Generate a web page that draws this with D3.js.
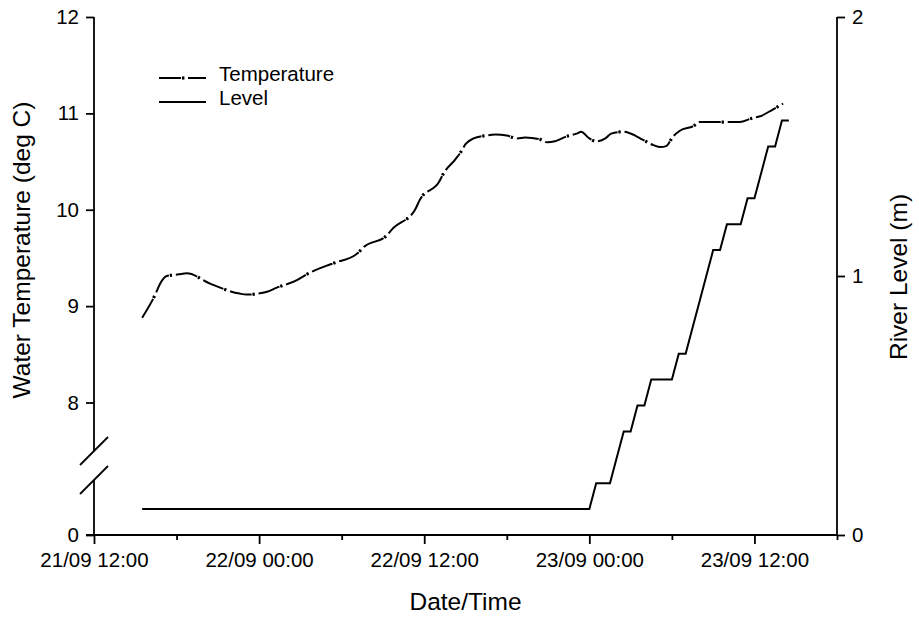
<!DOCTYPE html>
<html>
<head>
<meta charset="utf-8">
<script src="https://cdn.jsdelivr.net/npm/d3@7"></script>
<style>
  html, body { margin: 0; padding: 0; background: #fff; }
  svg { display: block; font-family: "Liberation Sans", Arial, sans-serif; }
</style>
</head>
<body>
<svg id="chart" width="919" height="617"></svg>
<script>
// Water temperature (deg C), logger readings
const tempTimes = [
  "21/09 15:30","21/09 16:25","21/09 16:50","21/09 17:15","21/09 18:10","21/09 18:45",
  "21/09 20:20","21/09 20:40","21/09 22:35","21/09 23:05","22/09 00:35","22/09 01:15",
  "22/09 02:45","22/09 03:20","22/09 04:55","22/09 05:30","22/09 07:05","22/09 07:40",
  "22/09 09:15","22/09 09:45","22/09 11:20","22/09 11:40","22/09 13:05","22/09 13:25",
  "22/09 14:15","22/09 14:40","22/09 15:00","22/09 15:35","22/09 16:30","22/09 17:10",
  "22/09 18:00","22/09 18:45","22/09 19:20","22/09 20:25","22/09 20:55","22/09 21:30",
  "22/09 22:20","22/09 23:05","22/09 23:25","22/09 23:55","23/09 00:30","23/09 01:10",
  "23/09 01:35","23/09 02:30","23/09 03:20","23/09 03:50","23/09 04:40","23/09 05:10",
  "23/09 05:35","23/09 06:05","23/09 06:35","23/09 07:35","23/09 08:00","23/09 09:00",
  "23/09 10:55","23/09 11:50","23/09 12:25","23/09 13:20","23/09 14:05"
];
const tempValues = [
  8.88, 9.11, 9.24, 9.31, 9.33, 9.34,
  9.24, 9.22, 9.13, 9.12, 9.15, 9.19,
  9.27, 9.32, 9.42, 9.45, 9.54, 9.62,
  9.73, 9.81, 10.00, 10.10, 10.29, 10.38,
  10.52, 10.60, 10.68, 10.74, 10.77, 10.78,
  10.77, 10.74, 10.75, 10.73, 10.70, 10.71,
  10.76, 10.79, 10.81, 10.75, 10.71, 10.74,
  10.79, 10.81, 10.77, 10.73, 10.67, 10.65,
  10.66, 10.76, 10.82, 10.87, 10.91, 10.91,
  10.91, 10.95, 10.97, 11.04, 11.10
];

// River level (m)
const levelTimes = [
  "21/09 15:30","23/09 00:00","23/09 00:30","23/09 01:30","23/09 02:00","23/09 02:30",
  "23/09 03:00","23/09 03:30","23/09 04:00","23/09 04:30","23/09 06:00","23/09 06:30",
  "23/09 07:00","23/09 07:30","23/09 08:00","23/09 08:30","23/09 09:00","23/09 09:30",
  "23/09 10:00","23/09 11:00","23/09 11:30","23/09 12:00","23/09 12:30","23/09 13:00",
  "23/09 13:30","23/09 14:00","23/09 14:30"
];
const levelValues = [
  0.1, 0.1, 0.2, 0.2, 0.3, 0.4,
  0.4, 0.5, 0.5, 0.6, 0.6, 0.7,
  0.7, 0.8, 0.9, 1.0, 1.1, 1.1,
  1.2, 1.2, 1.3, 1.3, 1.4, 1.5,
  1.5, 1.6, 1.6
];

// Axis ticks and labels
const xStart = "21/09 12:00";
const xEnd = "23/09 18:00";
const tempTicks = [0, 8, 9, 10, 11, 12];
const levelTicks = [0, 1, 2];
const legendLabels = ["Temperature", "Level"];
const xTitle = "Date/Time";
const yLeftTitle = "Water Temperature (deg C)";
const yRightTitle = "River Level (m)";

const parse = d3.timeParse("%d/%m %H:%M");
const fmt = d3.timeFormat("%d/%m %H:%M");

const temp = tempTimes.map((t, i) => ({ t: parse(t), v: tempValues[i] }));
const level = levelTimes.map((t, i) => ({ t: parse(t), v: levelValues[i] }));

const plotL = 94, plotR = 837, plotT = 17, plotB = 535;
const svg = d3.select("#chart");

const x = d3.scaleTime().domain([parse(xStart), parse(xEnd)]).range([plotL, plotR]);
// broken temperature axis: 0 sits at the bottom, 8..12 fill the upper part
const yT = d3.scaleLinear().domain([0, 8, 12]).range([plotB, 402.5, plotT]);
const yL = d3.scaleLinear().domain([0, 2]).range([plotB, plotT]);

const tickFont = 20.5;
const titleFont = 24.5;
const axisStroke = 1.8;

function styleAxis(g) {
  g.selectAll("line").attr("stroke", "#000").attr("stroke-width", axisStroke);
  g.selectAll("text").attr("font-size", tickFont).attr("fill", "#000")
    .attr("font-family", '"Liberation Sans", Arial, sans-serif');
}

const isMajor = d => d.getHours() === 12 || d.getHours() === 0;

// x axis: ticks every 6 h, labels every 12 h
const xTicks = d3.timeHour.every(6).range(parse(xStart), d3.timeMinute.offset(parse(xEnd), 1));
const gx = svg.append("g").attr("transform", `translate(0,${plotB})`)
  .call(d3.axisBottom(x).tickValues(xTicks)
    .tickSize(9).tickPadding(8).tickSizeOuter(0)
    .tickFormat(d => isMajor(d) ? fmt(d) : ""));
gx.select(".domain").remove();
gx.selectAll(".tick").filter(d => !isMajor(d)).select("line").attr("y2", 5);
styleAxis(gx);
svg.append("line").attr("x1", plotL - 8).attr("x2", plotR)
  .attr("y1", plotB).attr("y2", plotB)
  .attr("stroke", "#000").attr("stroke-width", axisStroke);

// left axis with break marks
const gyl = svg.append("g").attr("transform", `translate(${plotL},0)`)
  .call(d3.axisLeft(yT).tickValues(tempTicks).tickSize(8).tickPadding(7).tickSizeOuter(0));
gyl.select(".domain").remove();
styleAxis(gyl);
const breakA = 451, breakB = 480;
svg.append("line").attr("x1", plotL).attr("x2", plotL).attr("y1", plotT).attr("y2", breakA)
  .attr("stroke", "#000").attr("stroke-width", axisStroke);
svg.append("line").attr("x1", plotL).attr("x2", plotL).attr("y1", breakB).attr("y2", plotB)
  .attr("stroke", "#000").attr("stroke-width", axisStroke);
[breakA, breakB].forEach(yb => {
  svg.append("line").attr("x1", plotL - 14).attr("y1", yb + 14)
    .attr("x2", plotL + 14).attr("y2", yb - 14)
    .attr("stroke", "#000").attr("stroke-width", axisStroke);
});

// right axis
const gyr = svg.append("g").attr("transform", `translate(${plotR},0)`)
  .call(d3.axisRight(yL).tickValues(levelTicks).tickFormat(d3.format("d"))
    .tickSize(8).tickPadding(7).tickSizeOuter(0));
gyr.select(".domain").attr("stroke", "#000").attr("stroke-width", axisStroke)
  .attr("d", `M0,${plotT}V${plotB}`);
styleAxis(gyr);

// data lines
const tempLine = d3.line().x(d => x(d.t)).y(d => yT(d.v)).curve(d3.curveMonotoneX);
const levelLine = d3.line().x(d => x(d.t)).y(d => yL(d.v));

svg.append("path").datum(level).attr("d", levelLine)
  .attr("fill", "none").attr("stroke", "#000").attr("stroke-width", 2);

svg.append("path").datum(temp).attr("d", tempLine)
  .attr("fill", "none").attr("stroke", "#000").attr("stroke-width", 2)
  .attr("stroke-dasharray", "22 1 2 4");
svg.append("path").datum(temp).attr("d", tempLine)
  .attr("fill", "none").attr("stroke", "#000").attr("stroke-width", 3.2)
  .attr("stroke-dasharray", "0 23 2 4");

// legend
const lg = svg.append("g");
const legY = [78, 102];
lg.append("line").attr("x1", 159).attr("x2", 206).attr("y1", legY[0]).attr("y2", legY[0])
  .attr("stroke", "#000").attr("stroke-width", 2).attr("stroke-dasharray", "22 1 2 4");
lg.append("rect").attr("x", 182).attr("y", legY[0] - 1.6).attr("width", 2.4).attr("height", 3.2);
lg.append("line").attr("x1", 159).attr("x2", 206).attr("y1", legY[1]).attr("y2", legY[1])
  .attr("stroke", "#000").attr("stroke-width", 2);
legendLabels.forEach((s, i) => {
  lg.append("text").attr("x", 219).attr("y", legY[i] + 2.7)
    .attr("font-size", 20.5).text(s);
});

// axis titles
svg.append("text").attr("x", (plotL + plotR) / 2).attr("y", 610)
  .attr("text-anchor", "middle").attr("font-size", titleFont).text(xTitle);
svg.append("text").attr("transform", "translate(30,250) rotate(-90)")
  .attr("text-anchor", "middle").attr("font-size", titleFont).text(yLeftTitle);
svg.append("text").attr("transform", "translate(907,277) rotate(-90)")
  .attr("text-anchor", "middle").attr("font-size", titleFont).text(yRightTitle);
</script>
</body>
</html>
